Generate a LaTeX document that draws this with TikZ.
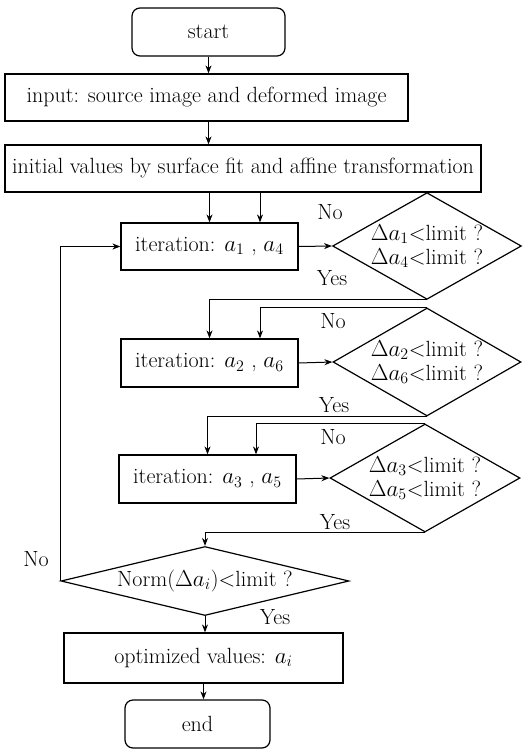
\documentclass[tikz,border=0pt]{standalone}
\usetikzlibrary{shapes.geometric,arrows.meta,calc}
\begin{document}
\begin{tikzpicture}[x=0.75pt,y=-0.75pt,
  every node/.style={font=\fontsize{16.5}{15}\selectfont},
  box/.style={draw,line width=0.9pt,inner sep=0pt,align=center},
  term/.style={box,rounded corners=6pt},
  dec/.style={draw,line width=0.9pt,diamond,inner sep=0pt,align=center},
  arr/.style={line width=0.75pt,-{Stealth[length=6pt,width=4.5pt]}},
  lab/.style={inner sep=0pt}]
\useasboundingbox (0,0) rectangle (522,749);
\node[term,minimum width=114.75pt,minimum height=36pt] (start) at (208.5,32) {start};
\node[box,minimum width=302.25pt,minimum height=35.25pt] (input) at (206.5,97.5) {input: source image and deformed image};
\node[box,minimum width=357pt,minimum height=35.25pt] (init) at (243,168.5) {initial values by surface fit and affine transformation};
\node[box,minimum width=132.75pt,minimum height=35.25pt] (it1) at (209.5,246.5) {iteration: $a_{1}$ , $a_{4}$};
\node[dec,minimum width=141pt,minimum height=79.5pt,shape aspect=1.77] (d1) at (427,246) {$\Delta a_{1}$<limit ?\\[3pt]$\Delta a_{4}$<limit ?};
\node[box,minimum width=132.75pt,minimum height=36pt] (it2) at (209.5,363) {iteration: $a_{2}$ , $a_{6}$};
\node[dec,minimum width=141pt,minimum height=81pt,shape aspect=1.74] (d2) at (427,362) {$\Delta a_{2}$<limit ?\\[3pt]$\Delta a_{6}$<limit ?};
\node[box,minimum width=132.75pt,minimum height=36pt] (it3) at (207.5,479) {iteration: $a_{3}$ , $a_{5}$};
\node[dec,minimum width=142.5pt,minimum height=81pt,shape aspect=1.76] (d3) at (425,478) {$\Delta a_{3}$<limit ?\\[3pt]$\Delta a_{5}$<limit ?};
\node[dec,minimum width=216pt,minimum height=51.75pt,shape aspect=4.17] (d4) at (205,581) {Norm($\Delta a_{i}$)<limit ?};
\node[box,minimum width=209.25pt,minimum height=37.5pt] (opt) at (203.5,658) {optimized values: $a_{i}$};
\node[term,minimum width=108.75pt,minimum height=36pt] (end) at (197.5,724) {end};
% labels
\node[lab] (n1) at (330,212) {No};
\node[lab] (y1) at (332,278) {Yes};
\node[lab] (n2) at (333,321) {No};
\node[lab] (y2) at (334,405) {Yes};
\node[lab] (n3) at (333,437) {No};
\node[lab] (y3) at (335,522) {Yes};
\node[lab] (n4) at (36,559) {No};
\node[lab] (y4) at (275,617) {Yes};
% connectors
\draw[arr] (start.south) -- (start.south |- input.north);
\draw[arr] (input.south -| start.south) -- (start.south |- init.north);
\draw[arr] (it1.north |- init.south) -- (it1.north);
\draw[arr] (d1.north) -| ($(it1.north)+(50.5,0)$);
\draw[arr] (it1.east) -- (d1.west);
\draw[arr] (d1.south) -| (it2.north);
\draw[arr] (d2.north) -| ($(it2.north)+(50.5,0)$);
\draw[arr] (it2.east) -- (d2.west);
\draw[arr] (d2.south) -| (it3.north);
\draw[arr] (d3.north) -| ($(it3.north)+(48.5,0)$);
\draw[arr] (it3.east) -- (d3.west);
\draw[arr] (d3.south) -| (d4.north);
\draw[arr] (d4.west) |- (it1.west);
\draw[arr] (d4.south) -- (d4.south |- opt.north);
\draw[arr] (opt.south) -- (opt.south |- end.north);
\end{tikzpicture}
\end{document}
